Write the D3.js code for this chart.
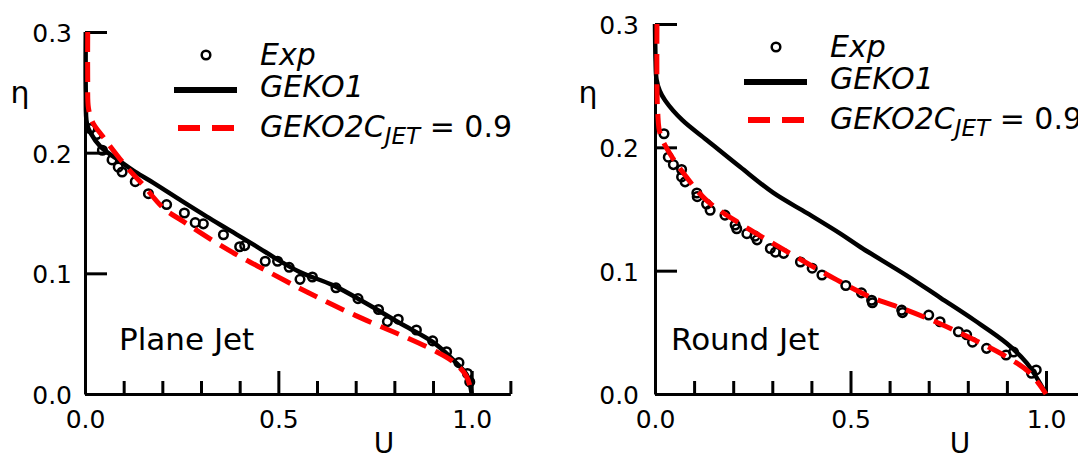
<!DOCTYPE html>
<html>
<head>
<meta charset="utf-8">
<script src="https://cdn.jsdelivr.net/npm/d3@7"></script>
<style>
  html, body { margin: 0; padding: 0; background: #fff; }
  svg { display: block; }
  text { font-family: "DejaVu Sans", sans-serif; fill: #000; }
</style>
</head>
<body>
<svg id="chart" width="1078" height="455"></svg>
<script>
// ---------------- data (U, eta) ----------------
const planeExp = [
  [0.013,0.220],[0.030,0.215],[0.045,0.202],[0.070,0.194],[0.086,0.188],[0.096,0.184],
  [0.130,0.176],[0.164,0.166],[0.211,0.157],[0.257,0.150],[0.285,0.142],[0.306,0.141],
  [0.358,0.132],[0.400,0.122],[0.413,0.123],[0.466,0.110],[0.498,0.110],[0.528,0.105],
  [0.556,0.095],[0.588,0.097],[0.649,0.088],[0.706,0.079],[0.759,0.070],[0.782,0.060],
  [0.810,0.062],[0.857,0.053],[0.899,0.044],[0.935,0.035],[0.967,0.026],[0.989,0.017],
  [0.995,0.010]
];
const planeGeko1 = [
  [0.002,0.300],[0.002,0.250],[0.005,0.224],[0.015,0.216],[0.040,0.205],[0.090,0.193],
  [0.130,0.184],[0.177,0.175],[0.250,0.160],[0.315,0.147],[0.367,0.137],[0.440,0.123],
  [0.500,0.111],[0.556,0.101],[0.642,0.090],[0.728,0.075],[0.815,0.0586],[0.900,0.043],
  [0.953,0.028],[0.987,0.016],[1.000,0.000]
];
const planeGeko2 = [
  [0.007,0.300],[0.007,0.260],[0.009,0.237],[0.020,0.225],[0.047,0.213],[0.108,0.188],
  [0.147,0.1745],[0.203,0.154],[0.254,0.143],[0.331,0.127],[0.400,0.114],[0.464,0.103],
  [0.556,0.0875],[0.642,0.0737],[0.728,0.061],[0.815,0.049],[0.900,0.0365],[0.953,0.0265],
  [0.987,0.0143],[1.000,0.000]
];
const roundExp = [
  [0.023,0.211],[0.034,0.192],[0.047,0.186],[0.068,0.182],[0.068,0.176],[0.077,0.172],
  [0.107,0.163],[0.108,0.160],[0.132,0.154],[0.141,0.149],[0.179,0.145],[0.205,0.137],
  [0.209,0.134],[0.235,0.130],[0.256,0.128],[0.261,0.125],[0.295,0.118],[0.308,0.115],
  [0.329,0.114],[0.372,0.107],[0.402,0.102],[0.427,0.0965],[0.488,0.088],[0.528,0.082],
  [0.554,0.076],[0.556,0.074],[0.631,0.068],[0.633,0.066],[0.700,0.064],[0.729,0.0586],
  [0.776,0.0505],[0.797,0.048],[0.812,0.042],[0.848,0.037],[0.898,0.0316],[0.917,0.034],
  [0.963,0.0168],[0.975,0.0195]
];
const roundGeko1 = [
  [0.000,0.300],[0.0015,0.270],[0.004,0.255],[0.012,0.246],[0.026,0.238],[0.070,0.222],
  [0.132,0.206],[0.218,0.184],[0.303,0.163],[0.389,0.1466],[0.474,0.130],[0.526,0.119],
  [0.644,0.096],[0.730,0.078],[0.816,0.060],[0.900,0.041],[0.951,0.025],[1.000,0.000]
];
const roundGeko2 = [
  [0.005,0.300],[0.005,0.250],[0.007,0.228],[0.013,0.211],[0.038,0.195],[0.073,0.179],
  [0.132,0.157],[0.218,0.138],[0.303,0.122],[0.389,0.106],[0.465,0.0925],[0.548,0.079],
  [0.644,0.068],[0.729,0.057],[0.816,0.044],[0.900,0.030],[0.959,0.017],[1.000,0.000]
];
const xMajorTicks = [0, 0.5, 1.0];
const xMinorTicks = [0.1, 0.2, 0.3, 0.4, 0.6, 0.7, 0.8, 0.9, 1.1];
const yTicks = [0, 0.1, 0.2, 0.3];
const panelNames = ["Plane Jet", "Round Jet"];
const legendNames = ["Exp", "GEKO1", "GEKO2C", "JET", " = 0.9"];
const axisTitles = ["U", "η"];

// ---------------- layout ----------------
const panels = [
  { name: panelNames[0], exp: planeExp, g1: planeGeko1, g2: planeGeko2,
    x0: 85, x1: 85 + 1.1 * 386.7, yTop: 32, yBot: 394, nameDx: 34, uX: 384, etaX: 20, yPad: 13 },
  { name: panelNames[1], exp: roundExp, g1: roundGeko1, g2: roundGeko2,
    x0: 655, x1: 655 + 1.1 * 391, yTop: 24, yBot: 394, nameDx: 16, uX: 960, etaX: 588, yPad: 16 }
];

const svg = d3.select("#chart");

panels.forEach(p => {
  const x = d3.scaleLinear().domain([0, 1.1]).range([p.x0, p.x1]);
  const y = d3.scaleLinear().domain([0, 0.3]).range([p.yBot, p.yTop]);
  const g = svg.append("g");

  // x axis: major ticks with labels
  const xa = g.append("g").attr("transform", `translate(0,${p.yBot})`)
    .call(d3.axisBottom(x).tickValues(xMajorTicks).tickSize(-23).tickSizeOuter(0)
      .tickFormat(d3.format(".1f")));
  xa.select(".domain").attr("stroke-width", 3).attr("stroke", "#000");
  xa.selectAll(".tick line").attr("stroke-width", 3).attr("stroke", "#000");
  xa.selectAll(".tick text").attr("y", 34).attr("dy", null)
    .attr("font-size", 25).attr("font-family", "DejaVu Sans");
  // x axis: minor ticks
  const xm = g.append("g").attr("transform", `translate(0,${p.yBot})`)
    .call(d3.axisBottom(x).tickValues(xMinorTicks).tickSize(-13).tickSizeOuter(0).tickFormat(""));
  xm.select(".domain").remove();
  xm.selectAll(".tick line").attr("stroke-width", 3).attr("stroke", "#000");

  // y axis
  const ya = g.append("g").attr("transform", `translate(${p.x0},0)`)
    .call(d3.axisLeft(y).tickValues(yTicks).tickSize(-22).tickSizeOuter(0).tickPadding(p.yPad)
      .tickFormat(d3.format(".1f")));
  ya.select(".domain").attr("stroke-width", 3).attr("stroke", "#000");
  ya.selectAll(".tick line").attr("stroke-width", 3).attr("stroke", "#000");
  ya.selectAll(".tick text").attr("dy", "0.38em")
    .attr("font-size", 25).attr("font-family", "DejaVu Sans");

  // axis titles
  g.append("text").attr("x", p.uX).attr("y", 453).attr("text-anchor", "middle")
    .attr("font-size", 28).text(axisTitles[0]);
  g.append("text").attr("x", p.etaX).attr("y", 103).attr("text-anchor", "middle")
    .attr("font-size", 30).text(axisTitles[1]);

  // data: experiment circles
  g.append("g").selectAll("circle").data(p.exp).join("circle")
    .attr("cx", d => x(d[0])).attr("cy", d => y(d[1])).attr("r", 4.3)
    .attr("fill", "none").attr("stroke", "#000").attr("stroke-width", 2.5);

  const line = d3.line().x(d => x(d[0])).y(d => y(d[1])).curve(d3.curveCatmullRom.alpha(0.5));
  g.append("path").datum(p.g1).attr("d", line)
    .attr("fill", "none").attr("stroke", "#000").attr("stroke-width", 4.5);
  g.append("path").datum(p.g2).attr("d", line)
    .attr("fill", "none").attr("stroke", "#ff0000").attr("stroke-width", 5)
    .attr("stroke-dasharray", "20,10");

  // panel label
  g.append("text").attr("x", p.x0 + p.nameDx).attr("y", 350)
    .attr("font-size", 31).text(p.name);

  // legend
  const lx = p.x0, ly = p.yTop;
  const lg = g.append("g");
  lg.append("circle").attr("cx", lx + 121).attr("cy", ly + 23).attr("r", 4.3)
    .attr("fill", "none").attr("stroke", "#000").attr("stroke-width", 2.5);
  lg.append("text").attr("x", lx + 175).attr("y", ly + 33)
    .attr("font-size", 30).attr("font-style", "italic").text(legendNames[0]);
  lg.append("line").attr("x1", lx + 89).attr("x2", lx + 152).attr("y1", ly + 58).attr("y2", ly + 58)
    .attr("stroke", "#000").attr("stroke-width", 6);
  lg.append("text").attr("x", lx + 175).attr("y", ly + 65)
    .attr("font-size", 30).attr("font-style", "italic").text(legendNames[1]);
  lg.append("line").attr("x1", lx + 93).attr("x2", lx + 152).attr("y1", ly + 96).attr("y2", ly + 96)
    .attr("stroke", "#ff0000").attr("stroke-width", 6).attr("stroke-dasharray", "22,12");
  const t = lg.append("text").attr("x", lx + 175).attr("y", ly + 105)
    .attr("font-size", 30).attr("font-style", "italic");
  t.append("tspan").text(legendNames[2]);
  t.append("tspan").attr("font-size", 23).attr("dy", 7).text(legendNames[3]);
  t.append("tspan").attr("font-style", "normal").attr("dy", -7)
    .style("white-space", "pre").text(legendNames[4]);
});
</script>
</body>
</html>
